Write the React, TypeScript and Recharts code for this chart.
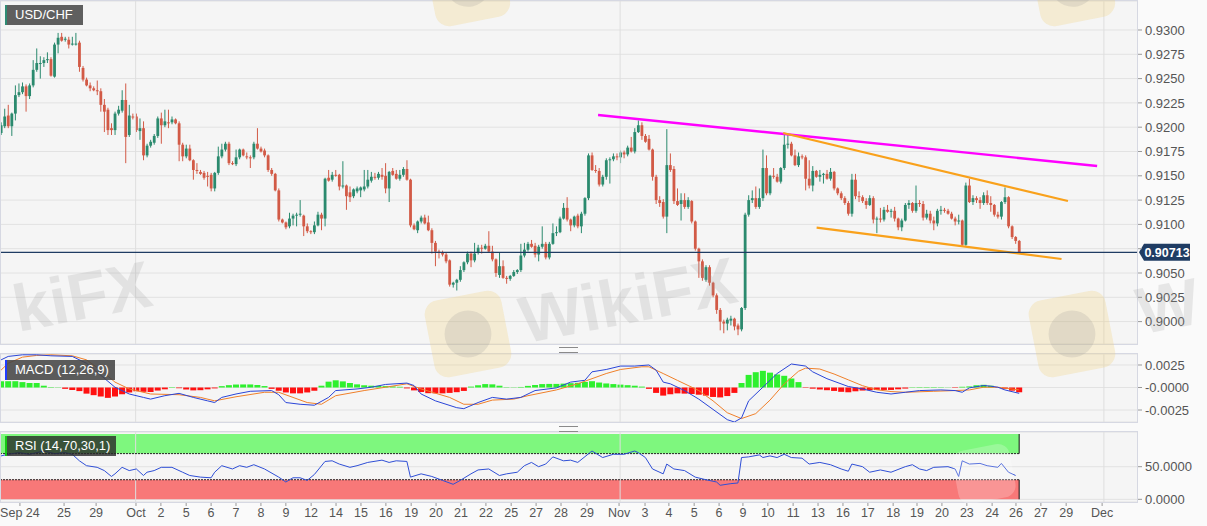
import { ComposedChart, Bar, Line, XAxis, YAxis, CartesianGrid, ReferenceLine, ReferenceArea, Cell } from 'recharts'

const FONT = '"Liberation Sans", Arial, sans-serif'
const UP = '#2b8a6e'
const DOWN = '#d25a46'
const GRID = '#e2e2e2'
const PLOT_BG = '#f5f5f5'
const BORDER = '#d6d8e2'
const X_DOMAIN: [number, number] = [-0.3, 319.1]

// USD/CHF 4h candles, [open, high, low, close] in pips above 0.9000
const candlesSep = [
  [194, 205, 192, 202], [201, 219, 199, 211], [212, 223, 199, 201], [201, 215, 191, 214], [214, 243, 207, 233], [233, 245, 231, 236], [236, 246, 234, 242], [242, 244, 216, 232], [232, 245, 229, 243], [243, 269, 241, 259],
  [259, 281, 257, 266], [265, 273, 250, 266], [266, 272, 262, 269], [269, 277, 266, 270], [270, 272, 252, 253], [252, 287, 251, 285], [285, 297, 276, 292], [293, 297, 288, 289], [290, 293, 288, 291], [290, 293, 281, 285],
  [285, 293, 284, 286], [286, 297, 284, 286], [287, 289, 257, 262], [261, 263, 247, 249], [249, 251, 242, 243], [243, 246, 237, 240], [240, 242, 237, 238], [238, 248, 233, 237], [237, 240, 216, 223], [223, 229, 195, 216],
  [218, 220, 192, 197], [199, 204, 192, 197], [197, 216, 192, 214], [214, 222, 212, 218], [217, 238, 215, 228], [228, 245, 163, 190], [192, 223, 190, 212], [211, 214, 208, 210],
]
const candlesOct = [
  [211, 214, 195, 197], [196, 209, 187, 199], [199, 206, 166, 171], [171, 183, 169, 181], [181, 187, 179, 185], [184, 193, 182, 191], [191, 211, 189, 209], [209, 215, 183, 202], [202, 218, 200, 206], [205, 218, 199, 204],
  [205, 211, 203, 208], [208, 209, 203, 204], [204, 206, 165, 182], [182, 184, 165, 170], [170, 182, 168, 178], [178, 182, 165, 166], [166, 167, 146, 156], [156, 163, 152, 155], [154, 156, 151, 152], [153, 155, 146, 148],
  [150, 154, 139, 149], [151, 153, 134, 137], [137, 154, 134, 153], [153, 180, 151, 170], [170, 183, 168, 177], [177, 185, 175, 183], [183, 185, 161, 163], [163, 165, 161, 162], [162, 177, 160, 169], [169, 178, 167, 177],
  [177, 178, 170, 171], [170, 174, 167, 169], [169, 171, 158, 168], [169, 185, 167, 183], [183, 199, 177, 178], [178, 180, 174, 175], [176, 178, 169, 171], [171, 172, 154, 156], [156, 158, 150, 152], [152, 153, 134, 135],
  [135, 137, 103, 105], [105, 106, 101, 102], [102, 103, 95, 97], [98, 112, 96, 106], [106, 111, 99, 109], [109, 112, 98, 110], [110, 125, 108, 111], [109, 110, 88, 98], [98, 101, 91, 93], [93, 94, 90, 92],
  [92, 103, 90, 99], [99, 113, 98, 110], [110, 112, 94, 106], [106, 148, 98, 147], [148, 156, 144, 145], [146, 154, 144, 151], [151, 156, 149, 150], [151, 152, 135, 139], [139, 165, 137, 140], [140, 141, 115, 129],
  [133, 139, 123, 128], [129, 137, 127, 136], [134, 139, 132, 137], [135, 139, 128, 138], [136, 156, 134, 139], [139, 156, 137, 146], [145, 154, 143, 149], [149, 153, 146, 148], [148, 154, 146, 152], [151, 158, 146, 149],
  [150, 163, 132, 137], [137, 155, 123, 154], [155, 158, 150, 151], [152, 156, 146, 147], [147, 156, 145, 151], [151, 159, 149, 157], [157, 166, 145, 146], [146, 147, 97, 99], [99, 101, 94, 95], [94, 104, 91, 103],
  [103, 109, 101, 107], [107, 110, 100, 101], [102, 109, 93, 94], [94, 96, 70, 81], [81, 83, 57, 72], [72, 74, 65, 71], [71, 73, 67, 69], [69, 71, 60, 62], [63, 64, 36, 38], [38, 41, 35, 40],
  [40, 44, 32, 43], [43, 57, 41, 53], [53, 62, 51, 61], [61, 72, 59, 70], [70, 72, 56, 63], [63, 81, 61, 70], [71, 79, 69, 76], [76, 79, 70, 75], [75, 80, 74, 78], [78, 93, 71, 72],
  [72, 78, 62, 64], [64, 65, 46, 50], [48, 71, 45, 57], [57, 63, 44, 45], [45, 47, 39, 44], [44, 48, 42, 47], [47, 53, 46, 51], [51, 54, 49, 53], [53, 80, 51, 68], [68, 81, 66, 74],
  [74, 82, 72, 80], [80, 84, 76, 77], [78, 81, 66, 69], [69, 79, 62, 77], [77, 98, 75, 80], [80, 82, 64, 66], [66, 82, 64, 80], [80, 101, 79, 91], [91, 98, 88, 92], [92, 108, 91, 106],
  [106, 122, 105, 117], [117, 128, 103, 105], [105, 106, 93, 99], [99, 109, 97, 108], [109, 111, 96, 98], [98, 113, 91, 111], [111, 128, 109, 127], [127, 173, 125, 171], [171, 174, 155, 156], [156, 161, 153, 155],
  [155, 158, 139, 141], [141, 151, 139, 149], [149, 168, 146, 166], [166, 169, 142, 167], [167, 173, 165, 170], [170, 173, 166, 169],
]
const candlesNov = [
  [169, 176, 163, 174], [174, 176, 168, 172], [172, 181, 170, 179], [179, 190, 174, 175], [175, 199, 173, 195], [195, 207, 194, 202], [202, 205, 187, 191], [191, 193, 184, 185], [188, 192, 176, 177], [177, 178, 145, 149],
  [149, 151, 121, 125], [125, 129, 118, 122], [123, 126, 106, 108], [108, 198, 91, 161], [161, 173, 154, 156], [157, 160, 121, 124], [124, 137, 119, 120], [121, 132, 104, 125], [125, 132, 116, 118], [118, 128, 116, 125],
  [124, 125, 101, 103], [103, 104, 73, 75], [75, 76, 45, 62], [62, 64, 42, 45], [43, 58, 41, 56], [56, 58, 37, 40], [40, 41, 25, 27], [27, 29, 8, 12], [12, 14, -9, 0], [0, 2, -12, -2],
  [-2, 4, -9, 2], [1, 6, -4, 3], [3, 4, -9, -5], [-4, -2, -14, -8], [-8, 15, -10, 14], [14, 112, 12, 110], [110, 130, 108, 125], [125, 135, 122, 127], [127, 139, 116, 118], [118, 137, 116, 127],
  [127, 177, 124, 158], [158, 171, 130, 132], [132, 151, 130, 150], [150, 158, 147, 149], [149, 152, 143, 144],
  [144, 159, 142, 158], [158, 192, 156, 182], [182, 192, 178, 183], [183, 185, 170, 171], [171, 177, 160, 161], [161, 174, 159, 170], [170, 172, 167, 169], [169, 171, 135, 147], [147, 166, 137, 140], [140, 160, 134, 155],
  [155, 156, 148, 149], [149, 156, 144, 151], [151, 153, 142, 152], [152, 156, 146, 147], [147, 158, 145, 154], [154, 155, 135, 137], [137, 138, 130, 132], [132, 134, 125, 127], [127, 129, 120, 122], [122, 124, 109, 111],
  [111, 152, 108, 146], [146, 152, 126, 129], [129, 134, 123, 128], [128, 130, 122, 124], [124, 127, 116, 120], [120, 130, 119, 127], [127, 129, 101, 105], [105, 108, 91, 106], [106, 117, 102, 105], [105, 118, 103, 115],
  [115, 120, 112, 113], [113, 116, 107, 114], [114, 118, 103, 106], [106, 107, 94, 97], [97, 106, 93, 104], [104, 122, 103, 120], [120, 125, 116, 122], [122, 123, 112, 114], [114, 140, 112, 122], [122, 125, 118, 121],
  [121, 124, 104, 107], [107, 115, 105, 111], [111, 114, 101, 104], [104, 108, 94, 101], [101, 116, 98, 114], [114, 119, 110, 115], [115, 117, 112, 114], [114, 116, 110, 111], [111, 113, 105, 106], [106, 108, 99, 103],
  [103, 110, 100, 104], [104, 105, 77, 79], [79, 143, 78, 140], [140, 147, 122, 123], [123, 130, 120, 127], [127, 129, 122, 125], [125, 128, 116, 122], [122, 133, 120, 130], [130, 135, 120, 122], [122, 129, 113, 120],
  [120, 121, 108, 110], [110, 113, 106, 108], [108, 124, 105, 123], [123, 138, 121, 128], [128, 129, 96, 98], [98, 99, 85, 87], [87, 88, 80, 83], [83, 84, 71, 71.3],
]

const lastPrice = 0.90713
const priceTicks = [0.9, 0.9025, 0.905, 0.9075, 0.91, 0.9125, 0.915, 0.9175, 0.92, 0.9225, 0.925, 0.9275, 0.93]

// bar index where each day label sits
const dayTicks: [number, string][] = [
  [5.3, 'Sep 24'], [17.7, '25'], [26.7, '29'], [37.9, 'Oct'], [44.9, '2'], [52, '5'], [59, '6'], [66, '7'], [73, '8'], [80, '9'],
  [87.1, '12'], [94.1, '14'], [101.1, '15'], [108.1, '16'], [115.2, '19'], [122.2, '20'], [129.2, '21'], [136.2, '22'], [143.3, '25'], [150.3, '27'],
  [157.3, '28'], [164.6, '29'], [173.6, 'Nov'], [180.9, '3'], [187.6, '4'], [194.7, '5'], [201.7, '6'], [208.4, '9'], [215.4, '10'], [222.5, '11'],
  [229.5, '13'], [236.5, '16'], [243.5, '17'], [250.6, '18'], [257.3, '19'], [264.3, '20'], [271.3, '23'], [278.4, '24'], [285.1, '26'], [292.1, '27'],
  [299.2, '29'], [309.3, 'Dec'],
]
const monthLines = [37.8, 173.9, 309.8]

// hand-drawn trend lines, [bar index, price]
const trendLines = [
  { color: '#ff00ff', width: 2.4, from: [167.7, 0.92125], to: [307.9, 0.91601] },
  { color: '#f9a11b', width: 2.2, from: [219.7, 0.9194], to: [299.7, 0.91241] },
  { color: '#f9a11b', width: 2.2, from: [229.1, 0.90966], to: [297.9, 0.90644] },
]

// MACD (12,26,9), [bar index, value in 0.0001]
const macdLine = [
  [0, 30.7], [2, 34.5], [6, 36.3], [10, 36.3], [14, 35.2], [20, 34.5], [24, 26.9], [28, 13.6], [32, 0.3], [36, -7.2],
  [40, -11], [42, -12.9], [46, -9.1], [50, -6.5], [54, -11], [58, -14.8], [60, -16.7], [62, -11], [66, -7.2], [70, -4.2],
  [76, -3.4], [78, -8], [80, -16.7], [84, -18.6], [88, -19.7], [92, -11], [94, -3.4], [100, -1.6], [104, 0.3], [108, 3.4],
  [114, 4.9], [116, 2.2], [118, -7.2], [122, -14.8], [128, -22.4], [130, -23.5], [134, -16.7], [138, -11], [142, -12.9], [146, -11],
  [150, -3.4], [156, -0.4], [160, 6], [164, 8], [166, 17.4], [170, 20], [174, 23.8], [178, 23.8], [182, 25], [184, 19.3],
  [186, 6], [188, 4.1], [192, -3.4], [196, -12.9], [200, -24.3], [204, -35.7], [206, -38.3], [208, -33.8], [210, -14.8], [214, 0.3],
  [218, 15.5], [222, 26.1], [226, 23.8], [228, 17.4], [232, 9.8], [238, 1.1], [242, -1.6], [246, -5.3], [250, -7.2], [254, -5.3],
  [258, -3.4], [264, -2.7], [268, -3.4], [270, -5.3], [272, -0.4], [276, 2.2], [278, 1.5], [280, 0.3], [282, -2.7], [286, -6.5],
]
const signalLine = [
  [0, 19.3], [2, 26.9], [6, 33.7], [10, 35.6], [14, 36.3], [20, 35.2], [24, 30.7], [28, 19.3], [32, 6], [36, -1.6],
  [42, -7.2], [50, -8], [56, -11], [60, -14.8], [66, -10.3], [74, -5.3], [78, -5.3], [82, -11], [86, -16.7], [90, -18.6],
  [94, -9.1], [102, -3.4], [108, 0.3], [114, 4.1], [118, -1.6], [126, -11], [130, -18.6], [134, -18.6], [138, -14], [144, -12.9],
  [148, -9.1], [156, -2.7], [162, 4.1], [170, 15.5], [174, 20], [180, 23], [182, 23], [186, 15.5], [190, 7.9], [196, -3.4],
  [200, -14.8], [204, -28], [208, -34.5], [212, -29], [216, -14], [220, 4], [224, 18], [226, 21.5], [230, 20.5], [234, 15],
  [238, 8.5], [242, 2], [246, -2.5], [250, -4.5], [254, -5.3], [262, -4.2], [268, -3.4], [272, -2.7], [276, 0.3], [280, 0.3],
  [286, -2.7],
]
// histogram, one value every second bar, in 0.0001
const macdHist = [
  7, 7, 7, 6, 5, 5, 2, 0.5, 0.3, -1.5,
  -2.8, -4, -6.8, -8.5, -10, -11.5, -10, -7.5, -5.5, -4.2,
  -4.8, -5, -3.4, -2, 0.5, -0.8, -2.2, -3.2, -3, -2,
  -1, 1.5, 2.6, 3.3, 3.4, 3.4, 2.8, 1.6, -1.5, -3.6,
  -5.5, -6.5, -6.5, -5.5, -3.6, 2, 6.5, 8, 6.8, 5,
  3.5, 2.5, 2, 1.8, 1.5, 1.2, 0.8, -1, -3.2, -5,
  -6.3, -6.5, -6.5, -6, -5.2, -3.8, 1, 2.5, 3.8, 3.5,
  2, 0.4, 0.3, 0.6, 1.8, 2.8, 3.8, 4, 4, 4.3,
  4.8, 5.2, 6.2, 7, 5.5, 4.5, 3.8, 3.2, 2.6, 2,
  1, -1.5, -6, -9, -7.5, -6.5, -6.8, -7.2, -8, -9,
  -10.5, -11, -9.5, -6, 5, 14, 17, 18.5, 16.5, 14.5,
  13, 10, 6, -0.5, -1.3, -2.2, -3, -3.8, -4.8, -5.3,
  -4.2, -3.4, -3, -2.7, -2.7, -2.7, -2, -1.2, 0.4, 0.5,
  0.5, 0.5, 0.4, 0.2, -0.5, 0.8, 1.2, 2.5, 3, 2,
  -0.3, -1.4, -3.5, -5.3,
]

// RSI (14), [bar index, value]
const rsiLine = [
  [0, 66.5], [2, 69], [5, 71.5], [8, 69], [12, 74], [15, 70], [18, 71.5], [20, 69], [22, 59], [24, 51.5],
  [27, 49], [29, 44], [31, 35], [32, 39], [34, 49], [36, 44], [38, 46.5], [40, 36.5], [41, 41.5], [43, 44],
  [45, 49], [48, 49], [51, 41.5], [53, 36.5], [56, 34], [59, 33], [60, 41.5], [62, 51.5], [65, 46.5], [67, 51.5],
  [69, 49], [71, 53], [74, 46.5], [78, 34], [80, 26.5], [82, 33], [84, 33], [86, 29], [88, 38], [91, 58],
  [93, 59], [95, 54], [98, 49], [100, 51.5], [103, 56.5], [107, 60], [109, 56.5], [111, 59], [114, 58], [115, 34],
  [118, 39], [121, 35], [124, 29], [127, 23], [129, 29], [132, 39], [134, 45], [137, 46.5], [140, 36.5], [142, 39],
  [145, 41.5], [147, 51.5], [149, 56.5], [151, 50], [153, 54], [155, 65], [158, 59], [160, 60], [162, 56.5], [166, 74],
  [169, 64], [172, 69], [175, 69], [178, 74], [179, 71.5], [181, 64], [183, 46.5], [186, 39], [187, 54], [189, 46.5],
  [192, 44], [195, 34], [198, 30], [201, 26.5], [202, 21.5], [205, 24], [207, 25], [208, 64], [210, 65], [213, 68],
  [214, 64], [216, 66.5], [218, 64], [220, 69], [222, 64], [225, 63], [227, 54], [230, 56.5], [233, 53], [236, 46.5],
  [238, 43], [239, 54], [242, 50], [244, 41.5], [247, 45], [250, 41.5], [254, 50], [256, 53], [258, 46.5], [260, 44],
  [262, 49], [266, 50], [268, 46.5], [269, 35], [270, 59], [272, 54], [275, 55], [277, 51.5], [280, 49], [281, 55],
  [283, 41.5], [285, 36.5],
]

const pip = (v: number) => 0.9 + v / 10000
const priceRows = [...candlesSep, ...candlesOct, ...candlesNov].map(([o, h, l, c], i) => ({
  i, o: pip(o), h: pip(h), l: pip(l), c: pip(c), range: [pip(l), pip(h)],
}))

const macdRows: any[] = macdHist.map((v, k) => ({ i: k * 2, hist: v / 10000 }))
const macdByIndex = new Map(macdRows.map(r => [r.i, r]))
macdLine.forEach(([i, v]) => { const r = macdByIndex.get(i); if (r) r.macd = v / 10000 })
signalLine.forEach(([i, v]) => { const r = macdByIndex.get(i); if (r) r.signal = v / 10000 })

const rsiRows = rsiLine.map(([i, v]) => ({ i, rsi: v }))
const dayLabel = new Map(dayTicks.map(([i, s]) => [i, s]))
const lastBar = priceRows.length - 1

const axisTick = { fontSize: 13, fill: '#555', fontFamily: FONT }

function Candle(props: any) {
  const { x, y, width, height, payload } = props
  if (x == null || !payload) return null
  const top = Math.min(y, y + height)
  const bot = Math.max(y, y + height)
  const span = payload.h - payload.l
  const py = (v: number) => (span > 0 ? top + ((payload.h - v) / span) * (bot - top) : top)
  const cx = x + width / 2
  const color = payload.c >= payload.o ? UP : DOWN
  const y1 = py(Math.max(payload.o, payload.c))
  const y2 = py(Math.min(payload.o, payload.c))
  return (
    <g>
      <line x1={cx} x2={cx} y1={top} y2={bot} stroke={color} strokeWidth={1} />
      <rect x={cx - 1.4} y={y1} width={2.8} height={Math.max(1, y2 - y1)} fill={color} />
    </g>
  )
}

function PriceTag(props: any) {
  const vb = props.viewBox
  if (!vb) return null
  const x = vb.x + vb.width + 2
  const y = vb.y
  return (
    <g>
      <path d={`M${x} ${y} L${x + 5} ${y - 8.5} H${x + 51} V${y + 8.5} H${x + 5} Z`} fill="#1f3c63" />
      <text x={x + 28} y={y + 4.5} textAnchor="middle" fill="#fff" fontSize={12.5} fontWeight="bold" fontFamily={FONT}>
        {lastPrice.toFixed(5)}
      </text>
    </g>
  )
}

function Watermarks() {
  const word = (cx: number, cy: number, s: string) => (
    <text x={cx} y={cy} textAnchor="middle" dominantBaseline="central" transform={`rotate(-11 ${cx} ${cy})`}
      fontSize={66} fontWeight="bold" fontFamily={FONT} fill="#9a9a9a" opacity={0.2}>{s}</text>
  )
  const logo = (cx: number, cy: number, s: number) => (
    <g transform={`rotate(-11 ${cx} ${cy})`}>
      <rect x={cx - s / 2} y={cy - s / 2} width={s} height={s} rx={14} fill="#f0d27a" opacity={0.28} />
      <circle cx={cx} cy={cy} r={s * 0.3} fill="#8a8a8a" opacity={0.18} />
    </g>
  )
  return (
    <svg width={1207} height={526} style={{ position: 'absolute', left: 0, top: 0, pointerEvents: 'none' }}>
      {logo(468, -16, 76)}
      {logo(1073, -16, 76)}
      {logo(468, 334, 78)}
      {logo(1072, 334, 78)}
      <rect x={955} y={447} width={58} height={54} rx={12} fill="#ffffff" opacity={0.22} transform="rotate(-11 984 474)" />
      {word(82, 296, 'kiFX')}
      {word(628, 300, 'WikiFX')}
      {word(1168, 306, 'W')}
    </svg>
  )
}

function PanelLabel({ top, text, width, bg, stripe }: { top: number; text: string; width: number; bg: string; stripe: string }) {
  return (
    <div style={{
      position: 'absolute', left: 5, top, width, height: 20, background: bg, borderLeft: `2px solid ${stripe}`,
      color: '#fff', fontSize: 13, lineHeight: '20px', paddingLeft: 8, boxSizing: 'border-box', fontFamily: FONT,
    }}>{text}</div>
  )
}

function Grip({ top }: { top: number }) {
  return (
    <div style={{ position: 'absolute', left: 559, top, width: 19, height: 4, borderTop: '1px solid #8a8a8a', borderBottom: '1px solid #8a8a8a' }} />
  )
}

export default function App() {
  return (
    <div style={{ position: 'absolute', left: 0, top: 0, width: 1207, height: 526, background: '#fafafa', overflow: 'hidden', fontFamily: FONT }}>
      <div style={{ position: 'absolute', left: 0, top: 0 }}>
        <ComposedChart width={1207} height={345} data={priceRows} margin={{ top: 1, right: 0, bottom: 1, left: 0 }}>
          <CartesianGrid vertical={false} stroke={GRID} fill={PLOT_BG} />
          <XAxis dataKey="i" type="number" domain={X_DOMAIN} allowDataOverflow hide />
          <YAxis orientation="right" width={70} domain={[0.897696, 0.932983]} allowDataOverflow ticks={priceTicks} interval={0}
            tickFormatter={(v: number) => (Math.abs(v - 0.9075) < 1e-6 ? '' : v.toFixed(4))}
            tickSize={5} tickMargin={3} axisLine={false} tickLine={{ stroke: '#999' }} tick={axisTick} />
          {monthLines.map(m => <ReferenceLine key={m} x={m} stroke="#dedede" />)}
          <Bar dataKey="range" shape={<Candle />} isAnimationActive={false} />
          {trendLines.map((t, k) => (
            <ReferenceLine key={k} segment={[{ x: t.from[0], y: t.from[1] }, { x: t.to[0], y: t.to[1] }]}
              stroke={t.color} strokeWidth={t.width} ifOverflow="visible" />
          ))}
          <ReferenceLine y={lastPrice} stroke="#1f3c63" strokeWidth={1.3} label={<PriceTag />} />
        </ComposedChart>
      </div>

      <div style={{ position: 'absolute', left: 0, top: 350 }}>
        <ComposedChart width={1207} height={76} data={macdRows} margin={{ top: 4, right: 0, bottom: 4, left: 0 }} barCategoryGap="8%">
          <CartesianGrid vertical={false} stroke={GRID} fill={PLOT_BG} />
          <XAxis dataKey="i" type="number" domain={X_DOMAIN} allowDataOverflow hide />
          <YAxis orientation="right" width={70} domain={[-0.00383, 0.00372]} allowDataOverflow ticks={[-0.0025, 0, 0.0025]} interval={0}
            tickFormatter={(v: number) => (Math.abs(v) < 1e-9 ? '-0.0000' : v.toFixed(4))}
            tickSize={5} tickMargin={3} axisLine={false} tickLine={{ stroke: '#999' }} tick={axisTick} />
          {monthLines.map(m => <ReferenceLine key={m} x={m} stroke="#dedede" />)}
          <Bar dataKey="hist" isAnimationActive={false}>
            {macdRows.map((r, k) => <Cell key={k} fill={r.hist >= 0 ? '#2ef02e' : '#ff1010'} />)}
          </Bar>
          <Line dataKey="signal" stroke="#f0802a" strokeWidth={1} dot={false} connectNulls isAnimationActive={false} />
          <Line dataKey="macd" stroke="#2a45d8" strokeWidth={1} dot={false} connectNulls isAnimationActive={false} />
        </ComposedChart>
      </div>

      <div style={{ position: 'absolute', left: 0, top: 428 }}>
        <ComposedChart width={1207} height={98} data={rsiRows} margin={{ top: 4, right: 0, bottom: 0, left: 0 }}>
          <CartesianGrid vertical={false} stroke={GRID} fill={PLOT_BG} />
          <XAxis dataKey="i" type="number" domain={X_DOMAIN} allowDataOverflow ticks={dayTicks.map(d => d[0])} interval={0}
            tickFormatter={(v: number) => dayLabel.get(v) ?? ''} height={24} tickSize={4} tickMargin={2}
            axisLine={false} tickLine={{ stroke: '#999' }} tick={{ fontSize: 12.5, fill: '#555', fontFamily: FONT }} />
          <YAxis orientation="right" width={70} domain={[-4.1, 103.1]} allowDataOverflow ticks={[0, 50]} interval={0}
            tickFormatter={(v: number) => v.toFixed(4)}
            tickSize={5} tickMargin={3} axisLine={false} tickLine={{ stroke: '#999' }} tick={axisTick} />
          {monthLines.map(m => <ReferenceLine key={m} x={m} stroke="#dedede" />)}
          <ReferenceArea x1={X_DOMAIN[0]} x2={lastBar} y1={70} y2={100} fill="#7ef77e" fillOpacity={1} stroke="none" />
          <ReferenceArea x1={X_DOMAIN[0]} x2={lastBar} y1={0} y2={30} fill="#f87878" fillOpacity={1} stroke="none" />
          <ReferenceLine segment={[{ x: X_DOMAIN[0], y: 70 }, { x: lastBar, y: 70 }]} stroke="#222" strokeDasharray="2 1" />
          <ReferenceLine segment={[{ x: X_DOMAIN[0], y: 30 }, { x: lastBar, y: 30 }]} stroke="#222" strokeDasharray="2 1" />
          <ReferenceLine segment={[{ x: lastBar, y: 70 }, { x: lastBar, y: 100 }]} stroke="#111" />
          <ReferenceLine segment={[{ x: lastBar, y: 0 }, { x: lastBar, y: 30 }]} stroke="#111" />
          <Line dataKey="rsi" stroke="#2f4fd6" strokeWidth={1} dot={false} isAnimationActive={false} />
        </ComposedChart>
      </div>

      <div style={{ position: 'absolute', left: 0, top: 0, width: 1138, height: 345, border: `1px solid ${BORDER}`, boxSizing: 'border-box', pointerEvents: 'none' }} />
      <div style={{ position: 'absolute', left: 0, top: 353, width: 1138, height: 70, border: `1px solid ${BORDER}`, boxSizing: 'border-box', pointerEvents: 'none' }} />
      <div style={{ position: 'absolute', left: 0, top: 431, width: 1138, height: 72, border: `1px solid ${BORDER}`, boxSizing: 'border-box', pointerEvents: 'none' }} />

      <Watermarks />
      <Grip top={347} />
      <Grip top={426} />
      <PanelLabel top={5} text="USD/CHF" width={78} bg="#5f5f5f" stripe="#2e8b74" />
      <PanelLabel top={360} text="MACD (12,26,9)" width={110} bg="rgba(70,70,70,0.88)" stripe="#1f3cff" />
      <PanelLabel top={436} text="RSI (14,70,30,1)" width={111} bg="rgba(40,40,40,0.8)" stripe="#14c814" />
    </div>
  )
}
